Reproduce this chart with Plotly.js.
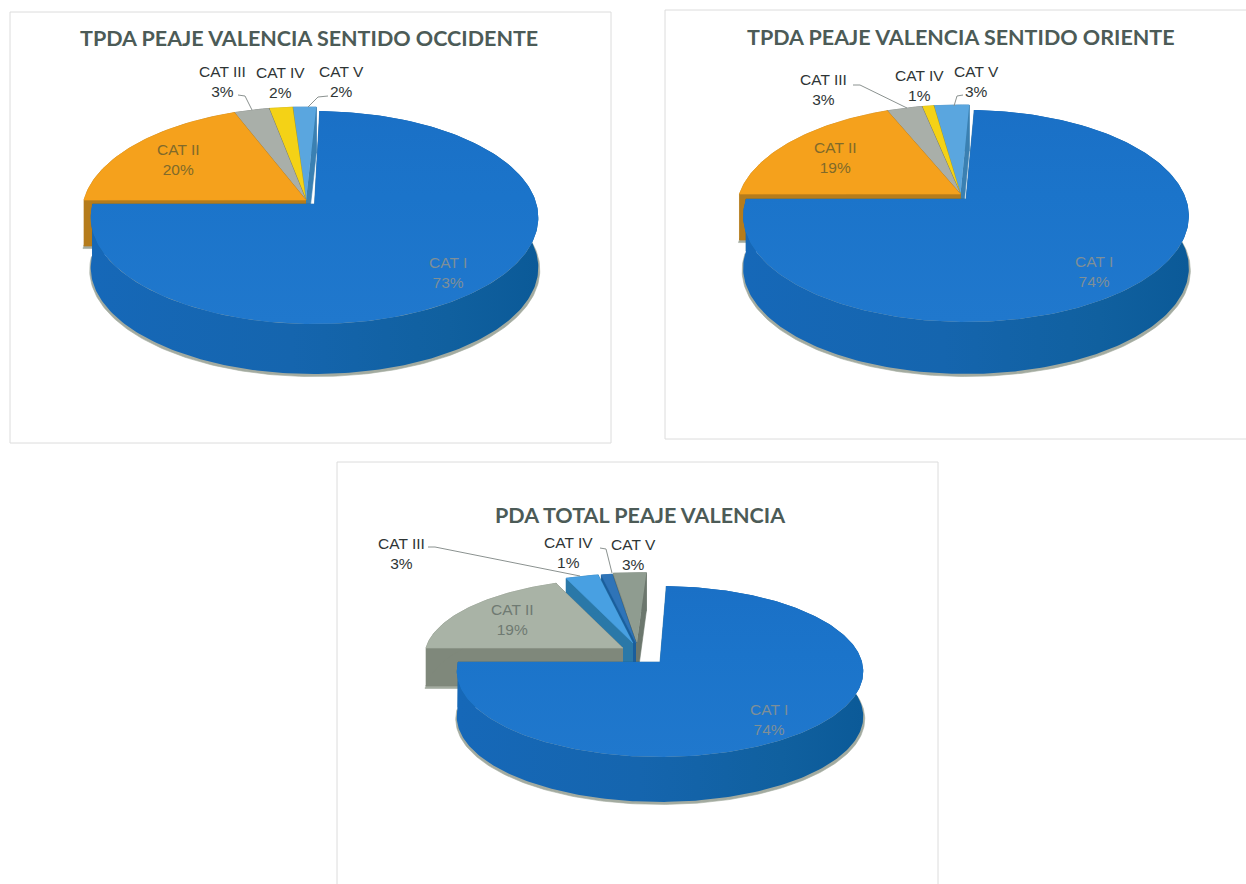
<!DOCTYPE html>
<html>
<head>
<meta charset="utf-8">
<script src="https://cdn.plot.ly/plotly-3.0.1.min.js"></script>
<style>html,body{margin:0;padding:0;background:#fff}#chart{width:1246px;height:884px}</style>
</head>
<body>
<div id="chart"></div>
<script>
// ---------- data ----------
const categories = ["CAT I", "CAT II", "CAT III", "CAT IV", "CAT V"];
const valuesOccidente = [73, 20, 3, 2, 2];
const valuesOriente   = [74, 19, 3, 1, 3];
const valuesTotal     = [74, 19, 3, 1, 3];
const titleOccidente = "TPDA PEAJE VALENCIA SENTIDO OCCIDENTE";
const titleOriente   = "TPDA PEAJE VALENCIA SENTIDO ORIENTE";
const titleTotal     = "PDA TOTAL PEAJE VALENCIA";

// ---------- styles ----------
const warm = {
  top:  ["#1b75cb", "#f5a11c", "#a9afa9", "#f4d216", "#5aa6df"],
  face: ["#14639f", "#b57c1c", "#646c69", "#ab9612", "#3a80b2"]
};
const cool = {
  top:  ["#1b72c9", "#a9b3a6", "#48a0e2", "#2f74b8", "#8f9c90"],
  face: ["#14639f", "#7f887b", "#2a78a8", "#1a5e9c", "#6c776d"]
};
const inkOuter = "#2e3535", inkTitle = "#4c5b57";

// ---------- layout geometry (panel, title, pie projection, label anchors) ----------
// mainStart: where the CAT I slice begins; sweep: foreshortening of the 3D view
// applied to the CAT I slice and to the other slices.
const charts = [
 { values: valuesOccidente, title: titleOccidente, titlePos: [309, 38], titleSize: 21.5,
   panel: [10, 12, 611, 443], pal: warm, tilt: 0.127, mainStart: 1.5, sweep: [1.0216, 0.957],
   main: { rx: 222, ry: 104.8, depth: 50 }, rest: { rx: 222, ry: 104.8, depth: 46 },
   apex: [[314.5,204],[306,200],[306,200],[306,200],[306,200]],
   labels: [[448,272,"#7f8f97"],[178,159,"#806a2a"],[222,81,inkOuter],[280,82,inkOuter],[341,81,inkOuter]],
   leaders: [[[238,245,252],[95,96,110]], [[328,318,308],[96,97,107]]] },
 { values: valuesOriente, title: titleOriente, titlePos: [961, 37], titleSize: 21.5,
   panel: [665, 10, 1252, 439], pal: warm, tilt: 0.16, mainStart: 2.5, sweep: [1.004, 0.99],
   main: { rx: 220, ry: 103.3, depth: 52 }, rest: { rx: 221, ry: 103.3, depth: 46 },
   apex: [[966,199],[960.5,194],[960.5,194],[960.5,194],[960.5,194]],
   labels: [[1094,271,"#7f8f97"],[835,157,"#806a2a"],[823,89,inkOuter],[919,85,inkOuter],[976,81,inkOuter]],
   leaders: [[[853,860,907],[85,85,108]], [[963,957,954],[95,96,106]]] },
 { values: valuesTotal, title: titleTotal, titlePos: [640, 515], titleSize: 21.5,
   panel: [337, 462, 938, 892], pal: cool, tilt: 0.111, mainStart: 2, sweep: [1.006, 0.994],
   main: { rx: 202, ry: 84.4, depth: 45 }, rest: { rx: 197, ry: 77, depth: 38 },
   apex: [[660,662],[623,648],[633,643],[636,643],[637,642]],
   labels: [[769,719,"#7f8f97"],[512,619,"#6f7a72"],[401,553,inkOuter],[568,552,inkOuter],[633,554,inkOuter]],
   leaders: [[[428,435,580],[547,547,576]], [[600,606,612],[548,549,573]]] }
];

const traces = [], annotations = [], shapes = [];

function project(c, slice, deg, drop) {
  const g = slice === 0 ? c.main : c.rest;
  const a = deg * Math.PI / 180;
  const w = 1 + c.tilt * Math.cos(a);
  return [c.apex[slice][0] + g.rx * Math.sin(a) / w,
          c.apex[slice][1] - g.ry * Math.cos(a) / w + drop];
}
function poly(pts, style) {
  const t = { type: "scatter", mode: "lines", x: pts.map(p => p[0]), y: pts.map(p => p[1]),
              fill: "toself", hoverinfo: "skip", showlegend: false, line: { width: 0.6, color: style.edge || style.color } };
  if (style.gradient) {
    t.fillgradient = { type: style.gradient, colorscale: style.stops };
    t.line = { width: 0 };
  } else {
    t.fillcolor = style.color;
  }
  traces.push(t);
}
function arc(c, slice, from, to, drop) {
  const n = Math.max(2, Math.ceil(Math.abs(to - from)));
  const out = [];
  for (let i = 0; i <= n; i++) out.push(project(c, slice, from + (to - from) * i / n, drop));
  return out;
}

charts.forEach(c => {
  shapes.push({ type: "rect", xref: "x", yref: "y", x0: c.panel[0], y0: c.panel[1], x1: c.panel[2], y1: c.panel[3],
                line: { color: "#dcdcdc", width: 1 }, fillcolor: "#ffffff", layer: "below" });

  // cumulative angles of each slice, from the values
  const total = c.values.reduce((s, v) => s + v, 0);
  let acc = c.mainStart;
  const spans = c.values.map((v, i) => {
    const s = [acc, acc + 360 * v / total * c.sweep[i === 0 ? 0 : 1]];
    acc = s[1];
    return s;
  });

  // back to front: CAT V ... CAT I
  for (let i = c.values.length - 1; i >= 0; i--) {
    const g = i === 0 ? c.main : c.rest;
    const [a0, a1] = spans[i];
    const A = [c.apex[i][0], c.apex[i][1]];
    const top = arc(c, i, a0, a1, 0);
    const low = arc(c, i, a0, a1, g.depth);
    if (i <= 1) {
      poly([[A[0], A[1] + g.depth + 2.5]].concat(arc(c, i, a0, a1, g.depth + 2.5).map(p => [p[0] + (p[0] > A[0] ? 1.5 : -1), p[1]])),
           { color: "#a3aba0" });
    }
    // radial faces
    const Ad = [A[0], A[1] + g.depth];
    poly([A, top[0], low[0], Ad], { color: c.pal.face[i] });
    poly([A, top[top.length - 1], low[low.length - 1], Ad], { color: c.pal.face[i] });
    // outer wall
    const wall = top.concat(low.slice().reverse());
    if (i === 0) {
      poly(wall, { gradient: "horizontal", stops: [[0, "#1668b8"], [0.45, "#1565ae"], [0.8, "#10609f"], [1, "#0b5a98"]] });
    } else {
      poly(wall, { color: c.pal.face[i] });
    }
    // top surface
    const surf = [A].concat(top);
    if (i === 0) {
      poly(surf, { gradient: "vertical", stops: [[0, "#2078cd"], [0.6, "#1b74ca"], [1, "#1a70c6"]] });
    } else {
      poly(surf, { color: c.pal.top[i] });
    }
  }

  // leader lines
  c.leaders.forEach(l => traces.push({ type: "scatter", mode: "lines", x: l[0], y: l[1], hoverinfo: "skip", showlegend: false,
    line: { color: "#8b9290", width: 1 } }));

  // labels
  categories.forEach((cat, i) => {
    const L = c.labels[i];
    annotations.push({ xref: "x", yref: "y", x: L[0], y: L[1], showarrow: false, align: "center",
      text: cat + "<br>" + c.values[i] + "%",
      font: { family: "Liberation Sans, Arial, sans-serif", size: 15.5, color: L[2] } });
  });
  annotations.push({ xref: "x", yref: "y", x: c.titlePos[0], y: c.titlePos[1], showarrow: false,
    text: "<b>" + c.title + "</b>", font: { family: "Lato, sans-serif", size: c.titleSize, color: inkTitle } });
});

const layout = {
  width: 1246, height: 884, margin: { l: 0, r: 0, t: 0, b: 0 },
  paper_bgcolor: "#ffffff", plot_bgcolor: "#ffffff", showlegend: false,
  xaxis: { range: [0, 1246], visible: false, fixedrange: true },
  yaxis: { range: [884, 0], visible: false, fixedrange: true },
  annotations, shapes
};
Plotly.newPlot("chart", traces, layout, { staticPlot: true, displayModeBar: false });
</script>
</body>
</html>
